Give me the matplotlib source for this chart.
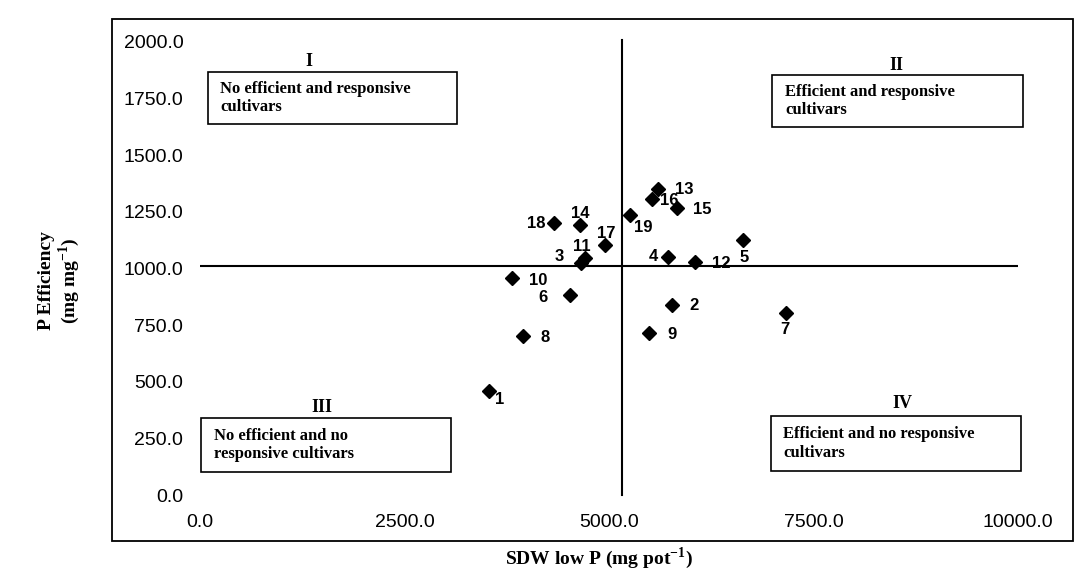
# Quadrant scatter: P efficiency vs shoot dry weight under low P
import numpy as np
import matplotlib.pyplot as plt
from matplotlib.patches import Rectangle

plt.rcParams['mathtext.fontset'] = 'custom'
plt.rcParams['mathtext.rm'] = 'Liberation Serif'
plt.rcParams['mathtext.bf'] = 'Liberation Serif:bold'

# -----------------------------------------------------------------------------
# data
cultivars = [str(i) for i in range(1, 20)]
sdw_low_p = [3537, 5765, 4663, 5716, 6634, 4529, 7160, 3953, 5483, 3819,
             4712, 6046, 5594, 4651, 5826, 5520, 4957, 4333, 5251]
p_eff = [459, 839, 1024, 1051, 1126, 883, 804, 702, 715, 958,
         1046, 1029, 1351, 1192, 1267, 1307, 1104, 1201, 1236]

mean_sdw = 5165
mean_peff = 1011

x_ticks = [0, 2500, 5000, 7500, 10000]
y_ticks = [0, 250, 500, 750, 1000, 1250, 1500, 1750, 2000]

# label offsets in pixels (dx right, dy down) from each marker
lab_off = {'1': (10, 8), '2': (22, 1), '3': (-22, -7), '4': (-14, 0),
           '5': (1, 18), '6': (-27, 2), '7': (-1, 17), '8': (22, 2),
           '9': (23, 1), '10': (26, 2), '11': (-4, -12), '12': (27, 2),
           '13': (27, 1), '14': (0, -12), '15': (26, 1), '16': (18, 2),
           '17': (1, -11), '18': (-18, 1), '19': (14, 12)}

W, H = 1086, 573
fig = plt.figure(figsize=(W / 100, H / 100), dpi=100)


def fx(x):
    return x / W


def fy(y):
    return 1 - y / H


ax = fig.add_axes([fx(200), fy(495), (818) / W, (453) / H])
ax.set_xlim(0, 10000)
ax.set_ylim(0, 2000)
for s in ax.spines.values():
    s.set_visible(False)
ax.set_xticks(x_ticks)
ax.set_yticks(y_ticks)
ax.set_xticklabels(['%.1f' % v for v in x_ticks])
ax.set_yticklabels(['%.1f' % v for v in y_ticks])
ax.tick_params(axis='both', length=0, labelsize=14, colors='black')
ax.tick_params(axis='x', pad=13.5)
ax.tick_params(axis='y', pad=12)
for lab in ax.get_xticklabels() + ax.get_yticklabels():
    lab.set_family('Liberation Sans')

# mean lines
ax.plot([0, 10000], [mean_peff, mean_peff], color='black', lw=1.5)
ax.plot([mean_sdw, mean_sdw], [0, 2010], color='black', lw=1.5, clip_on=False)

# points
ax.plot(sdw_low_p, p_eff, 'D', color='black', markersize=7)
for c, x, y in zip(cultivars, sdw_low_p, p_eff):
    dx, dy = lab_off[c]
    ax.annotate(c, (x, y), xytext=(dx * 0.72, -dy * 0.72),
                textcoords='offset points', ha='center', va='center',
                fontsize=12, fontweight='bold', family='Liberation Sans')

# quadrant boxes (pixel geometry)
boxes = [
    ('I', (309, 62), (208, 72, 457, 124), 220,
     'No efficient and responsive\ncultivars'),
    ('II', (896, 65), (772, 75, 1023, 127), 785,
     'Efficient and responsive\ncultivars'),
    ('III', (322, 408), (201, 418, 451, 472), 214,
     'No efficient and no\nresponsive cultivars'),
    ('IV', (902, 404), (771, 416, 1021, 471), 783,
     'Efficient and no responsive\ncultivars'),
]
for roman, (rx, ry), (x0, y0, x1, y1), tx, txt in boxes:
    fig.text(fx(rx), fy(ry), roman, ha='center', va='center', fontsize=13,
             fontweight='bold', family='Liberation Serif')
    fig.patches.append(Rectangle((fx(x0), fy(y1)), (x1 - x0) / W, (y1 - y0) / H,
                                 transform=fig.transFigure, fill=False,
                                 edgecolor='black', lw=1.2))
    fig.text(fx(tx), fy((y0 + y1) / 2), txt, ha='left', va='center',
             fontsize=12, fontweight='bold', family='Liberation Serif',
             linespacing=1.2)

# chart border
fig.patches.append(Rectangle((fx(112), fy(541)), (1073 - 112) / W, (541 - 19) / H,
                             transform=fig.transFigure, fill=False,
                             edgecolor='black', lw=1.3))

# axis titles
fig.text(fx(599), fy(558), r'SDW low P (mg pot$^{\mathbf{-1}}$)', ha='center',
         va='center', fontsize=14, fontweight='bold', family='Liberation Serif')
fig.text(fx(60), fy(281), 'P Efficiency\n' + r'(mg mg$^{\mathbf{-1}}$)',
         ha='center', va='center', rotation=90, fontsize=14,
         fontweight='bold', family='Liberation Serif', linespacing=1.05)

fig.savefig('out.png', dpi=100)
